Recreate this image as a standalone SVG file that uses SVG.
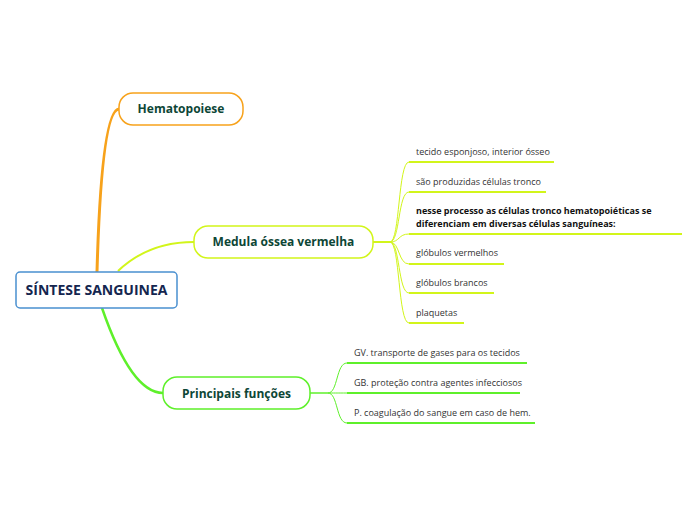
<svg xmlns="http://www.w3.org/2000/svg" width="696" height="520" viewBox="0 0 696 520">
<style>
.node{font-family:"Open Sans","Noto Sans",sans-serif;font-weight:bold;font-size:12px;fill:#0d4636;text-anchor:middle}
.leaf{font-family:"Open Sans","Noto Sans",sans-serif;font-size:9px;fill:#333}
.leafb{font-family:"Open Sans","Noto Sans",sans-serif;font-size:9px;font-weight:bold;fill:#111}
.y{stroke:#d2f51a;fill:none}
.g{stroke:#5ef02a;fill:none}
</style>
<rect width="696" height="520" fill="#fff"/>
<g id="connectors">
  <path d="M97,272 C99,200 104,110 119,109" stroke="#f7a21b" stroke-width="3" fill="none"/>
  <path d="M118,271 C140,250 168,242 194,242" class="y" stroke-width="2"/>
  <path d="M102,308 C120,360 140,393 163,393" class="g" stroke-width="2.5"/>
  <path d="M373,242 L390,242" class="y" stroke-width="2"/>
  <path d="M390,242 C400,242 398,162 409,162" class="y"/>
  <path d="M390,242 C400,242 398,192 409,192" class="y"/>
  <path d="M390,242 C400,242 398,234 409,234" class="y"/>
  <path d="M390,242 C400,242 398,264 409,264" class="y"/>
  <path d="M390,242 C400,242 398,293 409,293" class="y"/>
  <path d="M390,242 C400,242 398,323 409,323" class="y"/>
  <path d="M310,393 L328,393" class="g" stroke-width="1.5"/>
  <path d="M328,393 C338,393 336,363 347,363" class="g"/>
  <path d="M328,393 C338,393 336,393 347,393" class="g"/>
  <path d="M328,393 C338,393 336,423 347,423" class="g"/>
  <g stroke-width="2">
    <path d="M409,162 H554" class="y"/>
    <path d="M409,192 H546" class="y"/>
    <path d="M409,234 H682" class="y"/>
    <path d="M409,264 H504" class="y"/>
    <path d="M409,293 H494" class="y"/>
    <path d="M409,323 H464" class="y"/>
    <path d="M347,363 H527" class="g"/>
    <path d="M347,393 H520" class="g"/>
    <path d="M347,423 H535" class="g"/>
  </g>
</g>
<g id="central">
  <rect x="16" y="272" width="161" height="36" rx="4" fill="#fff" stroke="#4a90d0" stroke-width="1.5"/>
  <text x="96.5" y="295" font-family="Open Sans, Noto Sans, sans-serif" font-weight="bold" font-size="14" fill="#14264f" text-anchor="middle">SÍNTESE SANGUINEA</text>
</g>
<g id="hematopoiese">
  <rect x="119" y="93" width="124" height="32" rx="14" fill="#fff" stroke="#f7a21b" stroke-width="1.5"/>
  <text class="node" x="181" y="113">Hematopoiese</text>
</g>
<g id="medula">
  <rect x="194" y="226" width="179" height="32" rx="14" fill="#fff" stroke="#d2f51a" stroke-width="1.5"/>
  <text class="node" x="283.5" y="246">Medula óssea vermelha</text>
</g>
<g id="funcoes">
  <rect x="163" y="377" width="147" height="32" rx="14" fill="#fff" stroke="#5ef02a" stroke-width="1.5"/>
  <text class="node" x="236.5" y="398">Principais funções</text>
</g>
<g id="m1"><text class="leaf" x="416" y="155">tecido esponjoso, interior ósseo</text></g>
<g id="m2"><text class="leaf" x="416" y="185">são produzidas células tronco</text></g>
<g id="m3"><text class="leafb" x="416" y="214">nesse processo as células tronco hematopoiéticas se</text><text class="leafb" x="416" y="227">diferenciam em diversas células sanguíneas:</text></g>
<g id="m4"><text class="leaf" x="416" y="256">glóbulos vermelhos</text></g>
<g id="m5"><text class="leaf" x="416" y="286">glóbulos brancos</text></g>
<g id="m6"><text class="leaf" x="416" y="316">plaquetas</text></g>
<g id="f1"><text class="leaf" x="354" y="356">GV. transporte de gases para os tecidos</text></g>
<g id="f2"><text class="leaf" x="354" y="386">GB. proteção contra agentes infecciosos</text></g>
<g id="f3"><text class="leaf" x="354" y="416">P. coagulação do sangue em caso de hem.</text></g>
</svg>
